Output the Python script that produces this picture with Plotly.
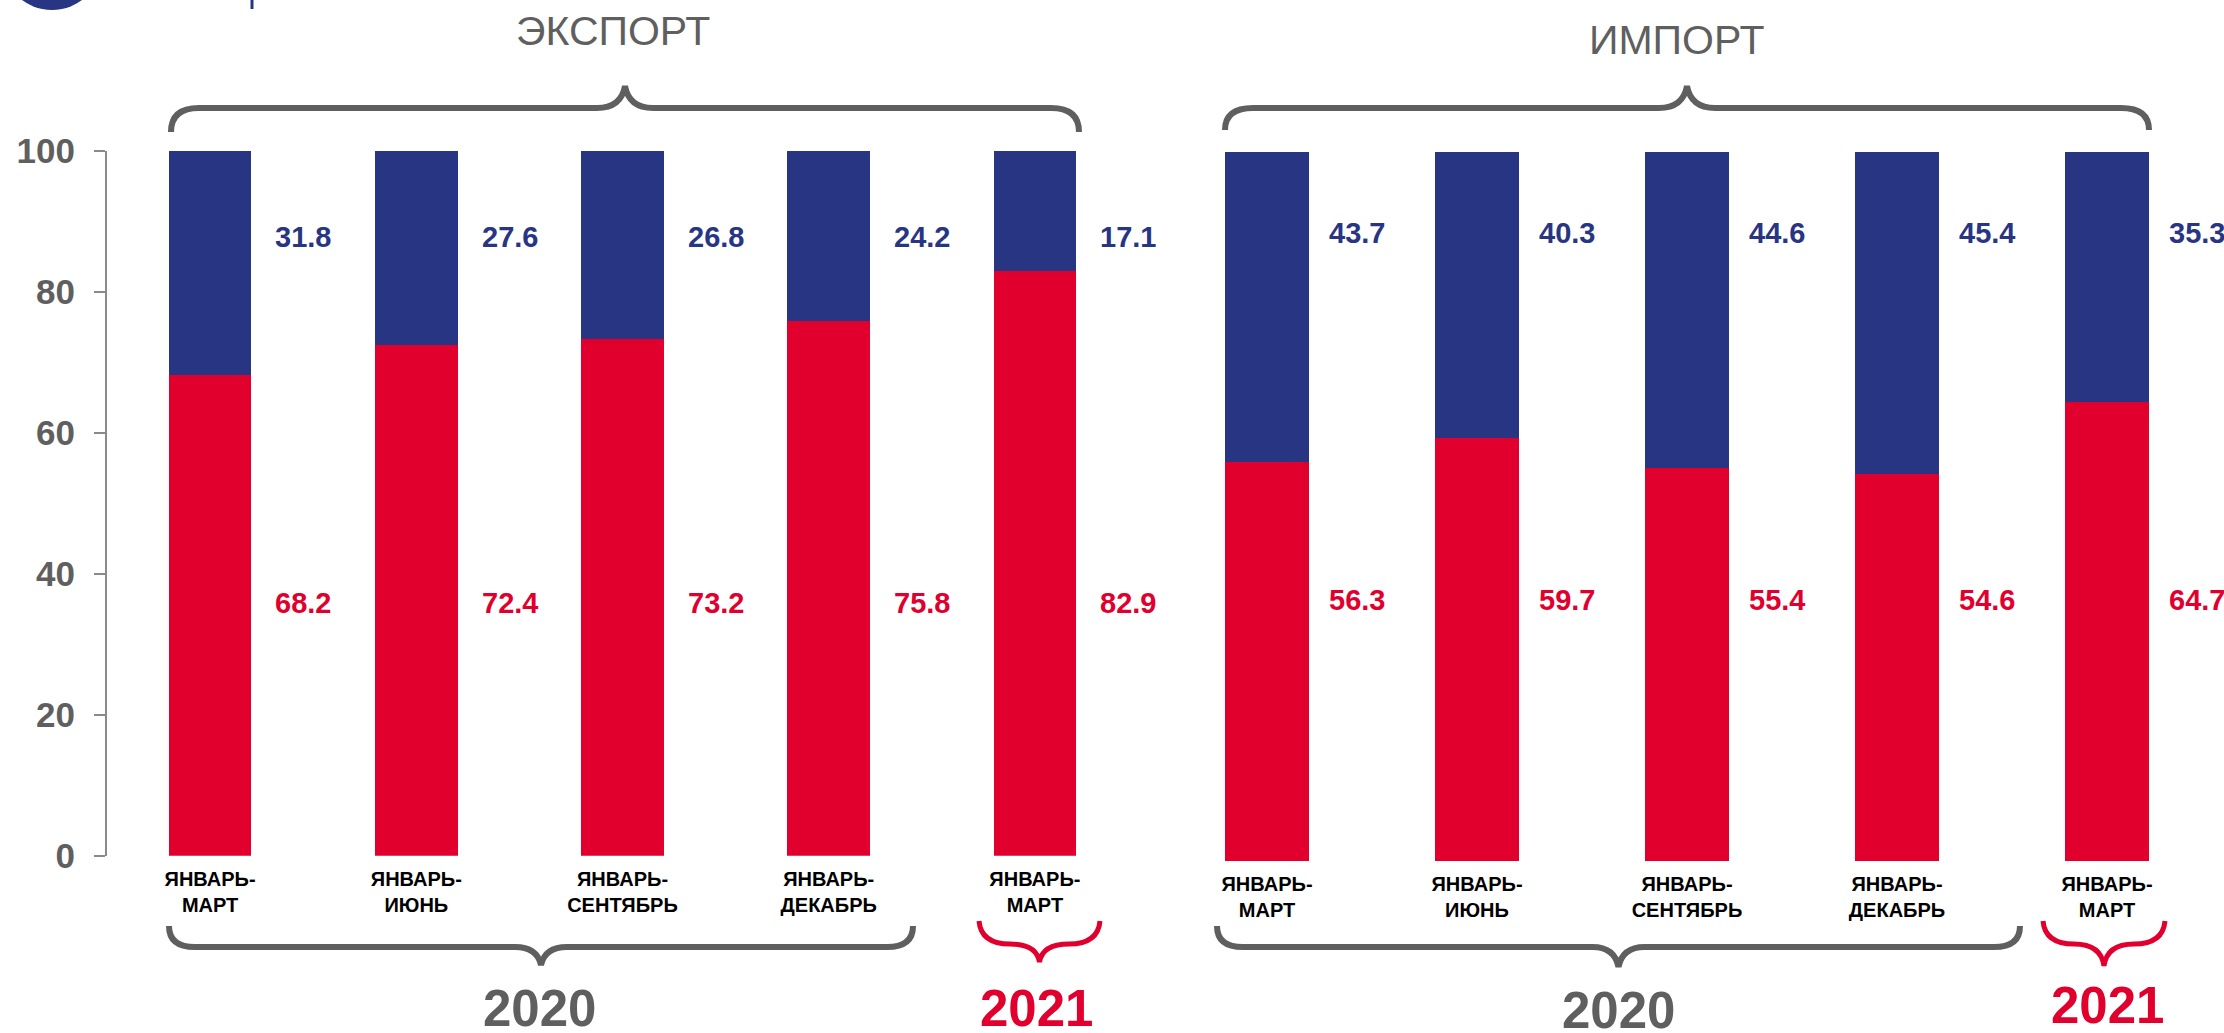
import plotly.graph_objects as go

# ---------------- data ----------------
periods = ["ЯНВАРЬ-<br>МАРТ", "ЯНВАРЬ-<br>ИЮНЬ", "ЯНВАРЬ-<br>СЕНТЯБРЬ", "ЯНВАРЬ-<br>ДЕКАБРЬ", "ЯНВАРЬ-<br>МАРТ"]
export_red = [68.2, 72.4, 73.2, 75.8, 82.9]
export_blue = [31.8, 27.6, 26.8, 24.2, 17.1]
import_red = [56.3, 59.7, 55.4, 54.6, 64.7]
import_blue = [43.7, 40.3, 44.6, 45.4, 35.3]
y_ticks = [0, 20, 40, 60, 80, 100]
panel_titles = ["ЭКСПОРТ", "ИМПОРТ"]
year_labels = ["2020", "2021"]

# ---------------- style ----------------
W, H = 2224, 1033
BLUE = "#283583"
RED = "#E1002D"
GRAY = "#5f5f5f"
AXIS = "#8a8a8a"
FONT = "Arial, Liberation Sans, sans-serif"

xpos = list(range(len(periods)))

fig = go.Figure()
fig.add_trace(go.Bar(x=xpos, y=export_red, marker=dict(color=RED, line=dict(width=0)),
                     width=0.4, xaxis="x", yaxis="y", showlegend=False, hoverinfo="y"))
fig.add_trace(go.Bar(x=xpos, y=export_blue, marker=dict(color=BLUE, line=dict(width=0)),
                     width=0.4, xaxis="x", yaxis="y", showlegend=False, hoverinfo="y"))
fig.add_trace(go.Bar(x=xpos, y=import_red, marker=dict(color=RED, line=dict(width=0)),
                     width=0.4, xaxis="x2", yaxis="y2", showlegend=False, hoverinfo="y"))
fig.add_trace(go.Bar(x=xpos, y=import_blue, marker=dict(color=BLUE, line=dict(width=0)),
                     width=0.4, xaxis="x2", yaxis="y2", showlegend=False, hoverinfo="y"))


def px(x):
    return x / W


def py(y):
    return 1 - y / H


xa_common = dict(range=[-0.5, 4.5], tickmode="array", tickvals=xpos, ticktext=periods,
                 showgrid=False, zeroline=False, showline=False, ticks="",
                 tickfont=dict(family=FONT, size=20, color="#000000", weight="bold"),
                 ticklabelstandoff=9, fixedrange=True, automargin=False)

fig.update_layout(
    width=W, height=H,
    margin=dict(l=0, r=0, t=0, b=0, pad=0),
    paper_bgcolor="white", plot_bgcolor="white",
    barmode="stack",
    xaxis=dict(domain=[px(107), px(1138)], anchor="y", **xa_common),
    xaxis2=dict(domain=[px(1162), px(2212)], anchor="y2", **xa_common),
    yaxis=dict(domain=[py(855.7), py(150.5)], range=[0, 100], anchor="x",
               tickmode="array", tickvals=y_ticks,
               showline=True, linecolor=AXIS, linewidth=2,
               ticks="outside", ticklen=11, tickwidth=2, tickcolor=AXIS,
               showgrid=False, zeroline=False,
               tickfont=dict(family=FONT, size=35, color=GRAY, weight="bold"),
               ticklabelstandoff=12, fixedrange=True, automargin=False),
    yaxis2=dict(domain=[py(861), py(152)], range=[0, 100], anchor="x2",
                showline=False, showticklabels=False, ticks="",
                showgrid=False, zeroline=False, fixedrange=True, automargin=False),
)

# value labels
ann = []
for i in xpos:
    ann.append(dict(x=i + 0.2, y=87.7, xref="x", yref="y", text=f"{export_blue[i]:.1f}",
                    xanchor="left", yanchor="middle", xshift=22, showarrow=False,
                    font=dict(family=FONT, size=29, color=BLUE, weight="bold")))
    ann.append(dict(x=i + 0.2, y=35.9, xref="x", yref="y", text=f"{export_red[i]:.1f}",
                    xanchor="left", yanchor="middle", xshift=22, showarrow=False,
                    font=dict(family=FONT, size=29, color=RED, weight="bold")))
    ann.append(dict(x=i + 0.2, y=88.6, xref="x2", yref="y2", text=f"{import_blue[i]:.1f}",
                    xanchor="left", yanchor="middle", xshift=18, showarrow=False,
                    font=dict(family=FONT, size=29, color=BLUE, weight="bold")))
    ann.append(dict(x=i + 0.2, y=36.8, xref="x2", yref="y2", text=f"{import_red[i]:.1f}",
                    xanchor="left", yanchor="middle", xshift=18, showarrow=False,
                    font=dict(family=FONT, size=29, color=RED, weight="bold")))

# panel titles
for txt, (cx, cy) in zip(panel_titles, [(613, 31), (1677, 40)]):
    ann.append(dict(x=px(cx), y=py(cy), xref="paper", yref="paper", text=txt,
                    xanchor="center", yanchor="middle", showarrow=False,
                    font=dict(family=FONT, size=41, color=GRAY)))

# year labels
for txt, (cx, cy), col in [(year_labels[0], (539, 1008), GRAY), (year_labels[1], (1036, 1008), RED),
                           (year_labels[0], (1618, 1010), GRAY), (year_labels[1], (2107, 1005), RED)]:
    ann.append(dict(x=px(cx), y=py(cy), xref="paper", yref="paper", text=txt,
                    xanchor="center", yanchor="middle", showarrow=False,
                    font=dict(family=FONT, size=51, color=col, weight="bold")))

fig.update_layout(annotations=ann)


# ---------------- braces (decorations, pixel geometry -> paper) ----------------
def path_paper(cmds):
    out = []
    for c in cmds:
        if isinstance(c, str):
            out.append(c)
        else:
            out.append(f"{px(c[0]):.5f},{py(c[1]):.5f}")
    return " ".join(out)


def top_brace(x0, x1, yline, yend, ypeak, r=28):
    xm = (x0 + x1) / 2
    return path_paper(["M", (x0, yend), "Q", (x0, yline), (x0 + r, yline), "L", (xm - 28, yline),
                       "Q", (xm - 4, yline), (xm, ypeak), "Q", (xm + 4, yline), (xm + 28, yline),
                       "L", (x1 - r, yline), "Q", (x1, yline), (x1, yend)])


def bottom_brace(x0, x1, yline, yend, ytip, r=26):
    xm = (x0 + x1) / 2
    return path_paper(["M", (x0, yend), "Q", (x0, yline), (x0 + r, yline), "L", (xm - 26, yline),
                       "Q", (xm - 4, yline), (xm, ytip), "Q", (xm + 4, yline), (xm + 26, yline),
                       "L", (x1 - r, yline), "Q", (x1, yline), (x1, yend)])


def small_brace(x0, x1, ytop, ymid, ytip):
    xm = (x0 + x1) / 2
    return path_paper(["M", (x0, ytop), "Q", (x0 + 2, ymid), (x0 + 31, ymid),
                       "Q", (xm - 3, ymid), (xm, ytip), "Q", (xm + 3, ymid), (x1 - 31, ymid),
                       "Q", (x1 - 2, ymid), (x1, ytop)])


shapes = []
for p in [top_brace(171, 1079, 108, 132, 86), top_brace(1225, 2149, 108, 130, 86)]:
    shapes.append(dict(type="path", path=p, xref="paper", yref="paper",
                       line=dict(color=GRAY, width=6)))
for p in [bottom_brace(169, 913, 947, 926, 965), bottom_brace(1217, 2020, 947, 926, 967)]:
    shapes.append(dict(type="path", path=p, xref="paper", yref="paper",
                       line=dict(color=GRAY, width=6)))
for p in [small_brace(979, 1100, 921, 944, 962), small_brace(2043, 2165, 921, 944, 966)]:
    shapes.append(dict(type="path", path=p, xref="paper", yref="paper",
                       line=dict(color=RED, width=5)))

# cropped logo fragments at the top-left corner
shapes.append(dict(type="circle", xref="paper", yref="paper",
                   x0=px(2), x1=px(102), y0=py(10), y1=py(-90),
                   fillcolor=BLUE, line=dict(width=0)))
shapes.append(dict(type="line", xref="paper", yref="paper",
                   x0=px(252), x1=px(252), y0=py(0), y1=py(9),
                   line=dict(color=BLUE, width=3)))

fig.update_layout(shapes=shapes)

# remove the default page margin so the figure fills the window exactly
fig.write_html("out.html", config={"displayModeBar": False},
               post_script="document.body.style.margin='0';document.body.style.overflow='hidden';")
